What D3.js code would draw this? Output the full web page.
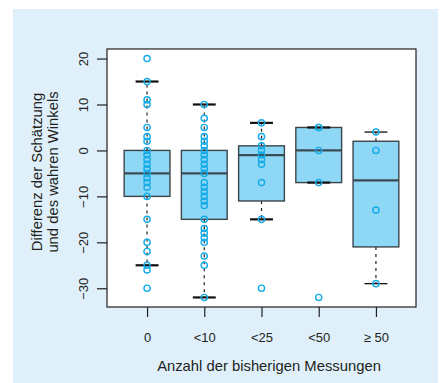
<!DOCTYPE html>
<html>
<head>
<meta charset="utf-8">
<script src="https://cdn.jsdelivr.net/npm/d3@7"></script>
<style>
  html, body { margin: 0; padding: 0; background: #fff; }
  svg { display: block; }
  text { font-family: 'Liberation Sans', Arial, sans-serif; fill: #231f20; }
</style>
</head>
<body>
<div id="chart"></div>
<script>
const categories = ['0', '<10', '<25', '<50', '≥ 50']

// box statistics per group
const whiskerHigh = [15, 10, 6, 5, 4]
const q3          = [0, 0, 1, 5, 2]
const medians     = [-5, -5, -1, 0, -6.5]
const q1          = [-10, -15, -11, -7, -21]
const whiskerLow  = [-25, -32, -15, -7, -29]

// individual observations per group
const points0  = [20, 15, 11, 10, 5, 3, 2, 0, -1, -2, -3, -4, -5, -6, -7, -8, -10, -15, -20, -22, -25, -26, -30]
const points10 = [10, 7, 5, 3, 2, 1, 0, -1, -2, -3, -4, -5, -7, -8, -9, -10, -11, -12, -15, -17, -18, -19, -20, -23, -25, -32]
const points25 = [6, 3, 1, 0, -1, -2, -3, -7, -15, -30]
const points50 = [5, 5, 0, -7, -32]
const pointsGe50 = [4, 0, -13, -29]
const groupPoints = [points0, points10, points25, points50, pointsGe50]

const yTicks = [-30, -20, -10, 0, 10, 20]

const W = 444, H = 383
const plot = { left: 107, right: 416, top: 49, bottom: 307 }

const svg = d3.select('#chart').append('svg')
  .attr('width', W).attr('height', H)

svg.append('rect')
  .attr('x', 13).attr('y', 9).attr('width', 425).attr('height', 374)
  .attr('fill', '#dff0fb')

svg.append('rect')
  .attr('x', plot.left).attr('y', plot.top)
  .attr('width', plot.right - plot.left).attr('height', plot.bottom - plot.top)
  .attr('fill', '#fff')

const x = d3.scalePoint().domain(categories).range([plot.left, plot.right]).padding(0.7)
const y = d3.scaleLinear().domain([-34.08, 22.08]).range([plot.bottom, plot.top])

const boxW = x.step() * 0.8
const capW = boxW / 2

const groups = categories.map((c, i) => ({
  cat: c, hi: whiskerHigh[i], q3: q3[i], med: medians[i], q1: q1[i], lo: whiskerLow[i], pts: groupPoints[i]
}))

const g = svg.append('g')

// whiskers
g.selectAll('line.wh-up').data(groups).enter().append('line')
  .attr('x1', d => x(d.cat)).attr('x2', d => x(d.cat))
  .attr('y1', d => y(d.q3)).attr('y2', d => y(d.hi))
  .attr('stroke', '#231f20').attr('stroke-width', 1.2).attr('stroke-dasharray', '3,4')
g.selectAll('line.wh-lo').data(groups).enter().append('line')
  .attr('x1', d => x(d.cat)).attr('x2', d => x(d.cat))
  .attr('y1', d => y(d.q1)).attr('y2', d => y(d.lo))
  .attr('stroke', '#231f20').attr('stroke-width', 1.2).attr('stroke-dasharray', '3,4')

// boxes
g.selectAll('rect.box').data(groups).enter().append('rect')
  .attr('x', d => x(d.cat) - boxW / 2).attr('width', boxW)
  .attr('y', d => y(d.q3)).attr('height', d => y(d.q1) - y(d.q3))
  .attr('fill', '#8fd8f5').attr('stroke', '#3b4549').attr('stroke-width', 1.4)

// medians
g.selectAll('line.med').data(groups).enter().append('line')
  .attr('x1', d => x(d.cat) - boxW / 2).attr('x2', d => x(d.cat) + boxW / 2)
  .attr('y1', d => y(d.med)).attr('y2', d => y(d.med))
  .attr('stroke', '#3b4b52').attr('stroke-width', 2.2)

// caps
const caps = groups.flatMap((d, i) => [d.hi, d.lo].map(v => ({ cat: d.cat, v, last: i === groups.length - 1 })))
g.selectAll('line.cap').data(caps).enter().append('line')
  .attr('x1', d => x(d.cat) - capW / 2).attr('x2', d => x(d.cat) + capW / 2)
  .attr('y1', d => y(d.v)).attr('y2', d => y(d.v))
  .attr('stroke', '#111').attr('stroke-width', d => d.last ? 1.3 : 2.2)

// observations
const obs = groups.flatMap(d => d.pts.map(v => ({ cat: d.cat, v })))
g.selectAll('circle.pt').data(obs).enter().append('circle')
  .attr('cx', d => x(d.cat)).attr('cy', d => y(d.v)).attr('r', 3.1)
  .attr('fill', 'none').attr('stroke', '#14abe8').attr('stroke-width', 1.4)

// plot frame
svg.append('rect')
  .attr('x', plot.left).attr('y', plot.top)
  .attr('width', plot.right - plot.left).attr('height', plot.bottom - plot.top)
  .attr('fill', 'none').attr('stroke', '#231f20').attr('stroke-width', 1.2)

// x axis
const xAxis = svg.append('g')
  .attr('transform', `translate(0,${plot.bottom})`)
  .call(d3.axisBottom(x).tickSize(10).tickPadding(16))
xAxis.select('.domain').remove()
xAxis.selectAll('line').attr('stroke', '#231f20').attr('stroke-width', 1.2)
xAxis.selectAll('text').attr('font-size', 13).attr('font-family', null).style('fill', '#231f20')

// y axis
const yAxis = svg.append('g')
  .attr('transform', `translate(${plot.left},0)`)
  .call(d3.axisLeft(y).tickValues(yTicks).tickSize(10).tickFormat(d => d < 0 ? '\u2212' + Math.abs(d) : d))
yAxis.select('.domain').remove()
yAxis.selectAll('line').attr('stroke', '#231f20').attr('stroke-width', 1.2)
yAxis.selectAll('text')
  .attr('font-size', 13).attr('font-family', null).style('fill', '#231f20')
  .attr('x', 0).attr('y', 0).attr('dy', null)
  .attr('text-anchor', 'middle')
  .attr('transform', 'translate(-19,0) rotate(-90)')

// axis titles
svg.append('text')
  .attr('x', 269).attr('y', 371)
  .attr('text-anchor', 'middle').attr('font-size', 14.8)
  .text('Anzahl der bisherigen Messungen')

const yTitle = svg.append('text')
  .attr('transform', 'translate(42,172) rotate(-90)')
  .attr('text-anchor', 'middle').attr('font-size', 14.8)
yTitle.append('tspan').attr('x', 0).attr('y', 0).text('Differenz der Schätzung')
yTitle.append('tspan').attr('x', 0).attr('y', 15.5).text('und des wahren Winkels')
</script>
</body>
</html>
